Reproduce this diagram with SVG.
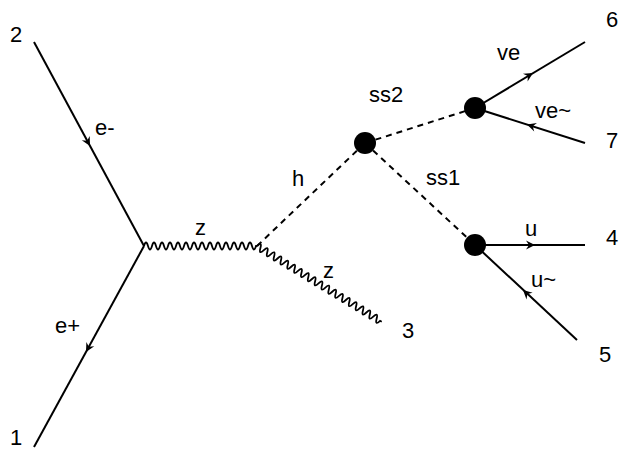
<svg xmlns="http://www.w3.org/2000/svg" width="623" height="452" viewBox="0 0 623 452">
<style>
.line{stroke:#000;stroke-width:2;fill:none}
.dash{stroke:#000;stroke-width:2;fill:none;stroke-dasharray:6,5}
.wave{stroke:#000;stroke-width:1.8;fill:none}
.lbl{font-family:"Liberation Sans",Arial,sans-serif;font-size:22px;fill:#000}
.dot{fill:#000}
</style>
<defs>
<path id="arr" d="M0,0 L-9,-4.5 L-6,0 L-9,4.5 Z" fill="#000"/>
</defs>
<rect width="623" height="452" fill="#fff"/>
<g id="connectors">
<line class="line" x1="34" y1="42" x2="144" y2="246"/>
<line class="line" x1="144" y1="246" x2="34" y2="447"/>
<path class="wave" d="M144,246 q2,-7 4,0 t4,0 t4,0 t4,0 t4,0 t4,0 t4,0 t4,0 t4,0 t4,0 t4,0 t4,0 t4,0 t4,0 t4,0 t4,0 t4,0 t4,0 t4,0 t4,0 t4,0 t4,0 t4,0 t4,0 t4,0 t4,0 t4,0 t4,0 l1,0"/>
<path class="wave" transform="translate(257,246) rotate(31.3)" d="M0,0 q2,-7 4,0 t4,0 t4,0 t4,0 t4,0 t4,0 t4,0 t4,0 t4,0 t4,0 t4,0 t4,0 t4,0 t4,0 t4,0 t4,0 t4,0 t4,0 t4,0 t4,0 t4,0 t4,0 t4,0 t4,0 t4,0 t4,0 t4,0 t4,0 t4,0 t4,0 t4,0 t4,0 t4,0 t4,0 t4,0 t4,0 l2,0"/>
<line class="dash" x1="257" y1="246" x2="365" y2="143"/>
<line class="dash" x1="365" y1="143" x2="475" y2="108"/>
<line class="dash" x1="365" y1="143" x2="475" y2="245"/>
<line class="line" x1="475" y1="108" x2="585" y2="42"/>
<line class="line" x1="585" y1="143" x2="475" y2="108"/>
<line class="line" x1="475" y1="245" x2="585" y2="245"/>
<line class="line" x1="577" y1="340" x2="475" y2="245"/>
<use href="#arr" transform="translate(90,146) rotate(61.7)"/>
<use href="#arr" transform="translate(86,352) rotate(118.7)"/>
<use href="#arr" transform="translate(533,73) rotate(-31)"/>
<use href="#arr" transform="translate(527,124.5) rotate(197.6)"/>
<use href="#arr" transform="translate(535,245) rotate(0)"/>
<use href="#arr" transform="translate(523,290) rotate(223)"/>
</g>
<g id="vertex-ss"><circle class="dot" cx="365" cy="143" r="11"/></g>
<g id="vertex-ve"><circle class="dot" cx="475" cy="108" r="11"/></g>
<g id="vertex-u"><circle class="dot" cx="475" cy="245" r="11"/></g>
<g id="labels">
<text class="lbl" x="10" y="42">2</text>
<text class="lbl" x="10" y="445">1</text>
<text class="lbl" x="95" y="135">e-</text>
<text class="lbl" x="55" y="333">e+</text>
<text class="lbl" x="195" y="235">z</text>
<text class="lbl" x="323" y="278">z</text>
<text class="lbl" x="402" y="338">3</text>
<text class="lbl" x="292" y="186">h</text>
<text class="lbl" x="369" y="102">ss2</text>
<text class="lbl" x="426" y="185">ss1</text>
<text class="lbl" x="497" y="60">ve</text>
<text class="lbl" x="535" y="118">ve~</text>
<text class="lbl" x="606" y="27">6</text>
<text class="lbl" x="606" y="148">7</text>
<text class="lbl" x="525" y="236">u</text>
<text class="lbl" x="531" y="287">u~</text>
<text class="lbl" x="606" y="245">4</text>
<text class="lbl" x="599" y="362">5</text>
</g>
</svg>
